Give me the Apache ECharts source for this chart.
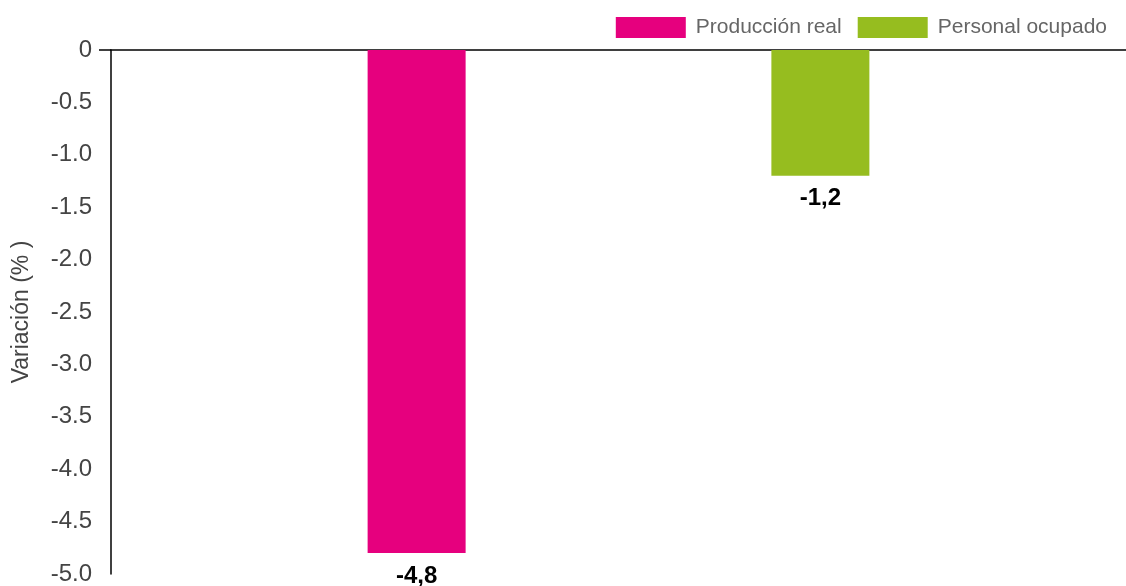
<!DOCTYPE html>
<html>
<head>
<meta charset="utf-8">
<script src="https://cdn.jsdelivr.net/npm/echarts@6/dist/echarts.min.js"></script>
<style>
  html, body { margin: 0; padding: 0; background: #fff; }
  #chart { width: 1126px; height: 586px; }
</style>
</head>
<body>
<div id="chart"></div>
<script>
var categories = [''];
var produccionReal = [-4.8];
var personalOcupado = [-1.2];
var seriesNames = ['Producción real', 'Personal ocupado'];
var yTicks = [0, -0.5, -1.0, -1.5, -2.0, -2.5, -3.0, -3.5, -4.0, -4.5, -5.0];

var chart = echarts.init(document.getElementById('chart'));

var barLabel = {
    show: true,
    position: 'bottom',
    distance: 11,
    color: '#000',
    fontWeight: 'bold',
    fontSize: 24,
    fontFamily: 'Liberation Sans',
    formatter: function(p) {
        return String(p.value).replace('.', ',');
    }
};

var option = {
    backgroundColor: '#fff',
    textStyle: { fontFamily: 'Liberation Sans' },
    animation: false,
    legend: {
        data: seriesNames,
        icon: 'rect',
        right: 14,
        top: 12,
        itemWidth: 70,
        itemHeight: 21,
        itemGap: 16,
        textStyle: { color: '#666', fontSize: 21, padding: [0, 0, 0, 5] }
    },
    grid: { left: 111, right: 0, top: 50, bottom: 12 },
    xAxis: {
        type: 'category',
        position: 'top',
        data: categories,
        axisLine: { show: true, lineStyle: { color: '#000', width: 1.5 } },
        axisTick: { show: false },
        axisLabel: { show: false }
    },
    yAxis: {
        type: 'value',
        min: yTicks[yTicks.length - 1],
        max: yTicks[0],
        interval: 0.5,
        name: 'Variación (% )',
        nameLocation: 'middle',
        nameGap: 78,
        nameTextStyle: { color: '#444', fontSize: 23 },
        axisLine: { show: true, lineStyle: { color: '#000', width: 1.5 } },
        axisTick: { show: true, length: 12, customValues: [0], lineStyle: { color: '#000', width: 1.5 } },
        splitLine: { show: false },
        axisLabel: {
            color: '#444',
            fontSize: 24,
            margin: 19,
            formatter: function(v) {
                return v === 0 ? '0' : v.toFixed(1);
            }
        }
    },
    series: [{
        name: seriesNames[0],
        type: 'bar',
        data: produccionReal,
        barWidth: 98,
        barGap: '312%',
        itemStyle: { color: '#e6007e' },
        label: barLabel
    }, {
        name: seriesNames[1],
        type: 'bar',
        data: personalOcupado,
        barWidth: 98,
        barGap: '312%',
        itemStyle: { color: '#96bd1f' },
        label: barLabel
    }]
};

chart.setOption(option);
</script>
</body>
</html>
